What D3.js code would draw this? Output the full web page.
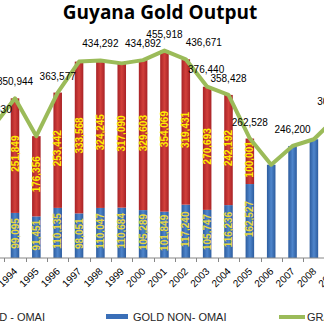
<!DOCTYPE html>
<html><head><meta charset="utf-8">
<script src="https://cdn.jsdelivr.net/npm/d3@7"></script>
<style>html,body{margin:0;padding:0;background:#fff;overflow:hidden}svg{display:block}</style>
</head><body>
<script>
const years = ["1993","1994","1995","1996","1997","1998","1999","2000","2001","2002","2003","2004","2005","2006","2007","2008","2009"];
const omai =    [205330,251849,176356,253442,333568,324245,317090,329603,354069,319431,270693,242192,100001,0,0,0,0];
const nonOmai = [85000, 99095, 91451,110135, 98051,110047,110684,105289,101849,117240,105747,116236,162527,205000,246200,261000,307000];
const grandTotal = [290330,350944,267807,363577,431619,434292,427774,434892,455918,436671,376440,358428,262528,205000,246200,261000,307000];
const totalLabels = ["290,330","350,944",null,"363,577",null,"434,292",null,"434,892","455,918","436,671","376,440","358,428","262,528",null,"246,200",null,"307,000"];
const labelShift = [0,0,0,0,0,0,0,0,0,18,-1,0,0,0,0,0,0];
const labelRaise = [0,0,0,0,0,0,0,0,0,0,1,0,0,0,0,0,0];
const omaiLabels = ["205,330","251,849","176,356","253,442","333,568","324,245","317,090","329,603","354,069","319,431","270,693","242,192","100,001","","","",""];
const nonOmaiLabels = ["85,000","99,095","91,451","110,135","98,051","110,047","110,684","105,289","101,849","117,240","105,747","116,236","162,527","","","",""];
const seriesNames = ["GOLD - OMAI","GOLD NON- OMAI","GRAND TOTAL"];
const yDomain = [0, 500000];

const W = 324, H = 330;
const svg = d3.select("body").append("svg").attr("width", W).attr("height", H);
const defs = svg.append("defs");
function grad(id, c0, c1) {
  const g = defs.append("linearGradient").attr("id", id).attr("x1","0").attr("x2","1").attr("y1","0").attr("y2","0");
  g.append("stop").attr("offset","0%").attr("stop-color", c0);
  g.append("stop").attr("offset","50%").attr("stop-color", c1);
  g.append("stop").attr("offset","100%").attr("stop-color", c0);
}
grad("gRed", "#a82226", "#d2403b");
grad("gBlue", "#2c5c9e", "#4f86cc");

const step = 21.35;
const x = d3.scaleBand().domain(years).range([15 - 1.5*step, 15 - 1.5*step + years.length*step])
  .paddingInner(0.6).paddingOuter(0.3);
const y = d3.scaleLinear().domain(yDomain).range([258, 30.5]);
const bw = x.bandwidth();
const cx = d => x(d) + bw/2;

// title
svg.append("text").attr("x", 160).attr("y", 19).attr("text-anchor","middle")
  .attr("font-family","'Open Sans', 'Liberation Sans', sans-serif").attr("font-weight","bold")
  .attr("font-size", 19).attr("fill","#000").text("Guyana Gold Output");

// bars
const g = svg.append("g");
years.forEach((yr, i) => {
  g.append("rect").attr("x", x(yr)).attr("width", bw)
    .attr("y", y(nonOmai[i])).attr("height", y(0) - y(nonOmai[i])).attr("fill","url(#gBlue)");
  if (omai[i] > 0) {
    g.append("rect").attr("x", x(yr)).attr("width", bw)
      .attr("y", y(nonOmai[i] + omai[i])).attr("height", y(0) - y(omai[i])).attr("fill","url(#gRed)");
  }
});

// axis
const axisY = y(0);
svg.append("line").attr("x1", 0).attr("x2", W).attr("y1", axisY).attr("y2", axisY).attr("stroke","#868686").attr("stroke-width",1);
years.forEach(yr => {
  const tx = Math.round(x(yr) - x.step()*0.3) + 0.5;
  svg.append("line").attr("x1", tx).attr("x2", tx).attr("y1", axisY).attr("y2", axisY+4).attr("stroke","#868686");
});
const xa = svg.append("g").attr("transform", `translate(0,${axisY})`)
  .call(d3.axisBottom(x).tickSize(0).tickPadding(0));
xa.select(".domain").remove();
xa.selectAll("text").attr("font-family","'Liberation Sans', Arial, sans-serif").attr("font-size", 10).attr("fill","#000")
  .attr("text-anchor","end").attr("dy", 0)
  .attr("transform", "translate(3,14) rotate(-45)");

// bar labels (rotated, yellow)
years.forEach((yr, i) => {
  const c = cx(yr);
  if (omai[i] > 0) {
    const my = (y(nonOmai[i]) + y(nonOmai[i] + omai[i]))/2 - 2;
    svg.append("text").attr("transform", `translate(${c+3.5},${my}) rotate(-90)`)
      .attr("text-anchor","middle").attr("font-family","'Liberation Sans Narrow','Liberation Sans',Arial,sans-serif")
      .attr("font-weight","bold").attr("font-size", 10).attr("fill","#ffee00").text(omaiLabels[i]);
    const by = (y(0) + y(nonOmai[i]))/2 - 2;
    svg.append("text").attr("transform", `translate(${c+3.5},${by}) rotate(-90)`)
      .attr("text-anchor","middle").attr("font-family","'Liberation Sans Narrow','Liberation Sans',Arial,sans-serif")
      .attr("font-weight","bold").attr("font-size", 10).attr("fill","#e8d840").text(nonOmaiLabels[i]);
  }
});

// line
const line = d3.line().x((d,i) => cx(years[i])).y(d => y(d));
svg.append("path").datum(grandTotal).attr("d", line).attr("fill","none")
  .attr("stroke","#9bbb59").attr("stroke-width",4).attr("stroke-linejoin","round");

// total labels
years.forEach((yr, i) => {
  if (!totalLabels[i]) return;
  svg.append("text").attr("x", cx(yr) + labelShift[i]).attr("y", y(grandTotal[i]) - 13 - labelRaise[i])
    .attr("text-anchor","middle").attr("font-family","'Liberation Sans', Arial, sans-serif")
    .attr("font-size", 10).attr("fill","#000").text(totalLabels[i]);
});

// legend
const ly = 317;
const lf = "'Liberation Sans', Arial, sans-serif";
svg.append("rect").attr("x", -70).attr("y", ly-3).attr("width", 22).attr("height", 5).attr("fill","#c0312f");
svg.append("text").attr("x", 45).attr("y", ly+4).attr("text-anchor","end").attr("font-family", lf).attr("font-size", 11).attr("fill","#262626").text(seriesNames[0]);
svg.append("rect").attr("x", 106).attr("y", ly-3).attr("width", 22).attr("height", 5).attr("fill","#3a6fb8");
svg.append("text").attr("x", 133).attr("y", ly+4).attr("font-family", lf).attr("font-size", 11).attr("fill","#262626").text(seriesNames[1]);
svg.append("line").attr("x1", 279).attr("x2", 305).attr("y1", ly).attr("y2", ly).attr("stroke","#9bbb59").attr("stroke-width",4);
svg.append("text").attr("x", 307).attr("y", ly+4).attr("font-family", lf).attr("font-size", 11).attr("fill","#262626").text(seriesNames[2]);
</script>
</body></html>
